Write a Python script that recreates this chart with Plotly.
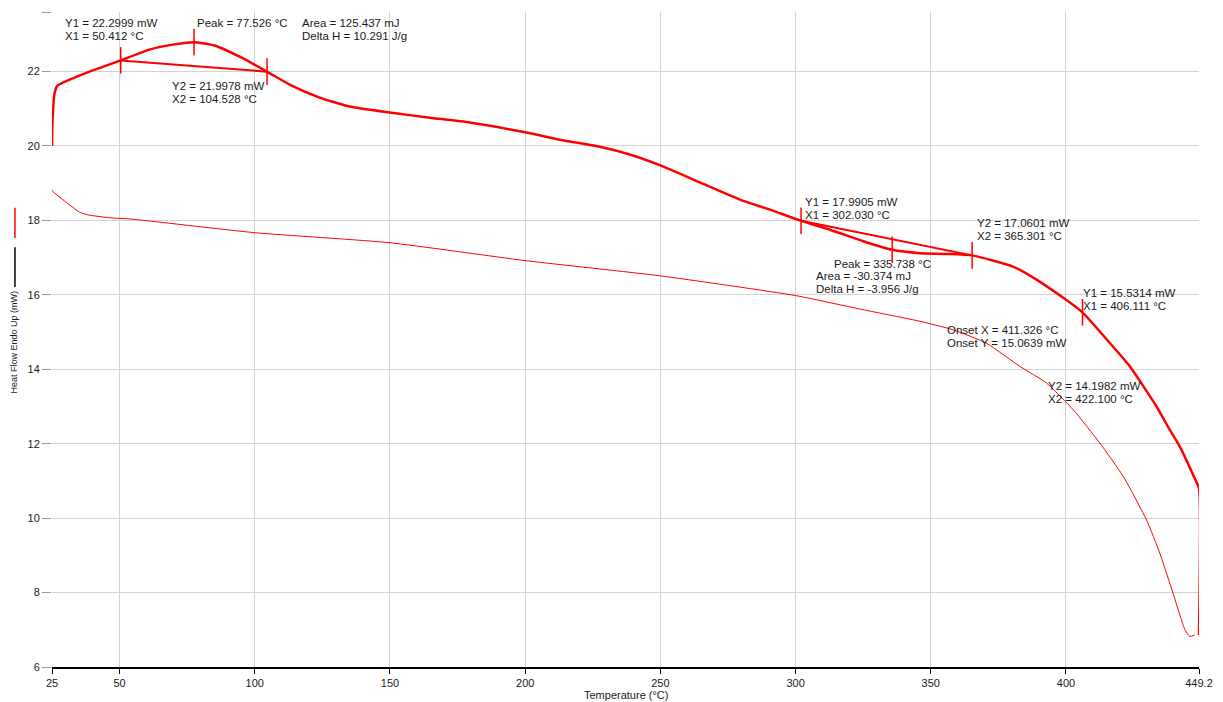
import plotly.graph_objects as go

# ---- data ----
THICK_T = [25.0, 25.2, 26.0, 27.0, 31.5, 38.9, 50.4, 61.0, 70.3, 77.5, 85.1, 94.4, 104.5,
           112.9, 124.0, 135.0, 149.9, 164.7, 179.5, 200.5, 212.7, 227.6, 238.7, 250.9,
           264.6, 279.4, 290.5, 302.0, 312.7, 325.0, 335.7, 346.0, 355.8, 365.3, 380.4,
           389.1, 399.0, 406.1, 416.3, 423.6, 433.5, 438.4, 442.1, 447.6, 449.2, 449.2]
THICK_HF = [20.0, 20.7, 21.43, 21.62, 21.78, 22.0, 22.3, 22.59, 22.73, 22.79, 22.7, 22.4, 22.0,
            21.65, 21.3, 21.06, 20.9, 20.76, 20.63, 20.36, 20.17, 19.98, 19.77, 19.45,
            19.02, 18.56, 18.29, 17.99, 17.75, 17.44, 17.21, 17.12, 17.1, 17.06, 16.76,
            16.41, 15.92, 15.53, 14.7, 14.08, 13.0, 12.37, 11.92, 11.07, 10.8, 6.86]

THIN_T = [25.0, 25.3, 35.2, 38.2, 46.3, 53.7, 100.0, 150.0, 200.0, 250.0, 300.0, 325.0,
          346.0, 358.3, 370.6, 382.9, 392.8, 402.7, 412.5, 421.2, 429.8, 434.7, 439.6,
          444.0, 445.8, 447.6]
THIN_HF = [18.83, 18.78, 18.22, 18.15, 18.07, 18.04, 17.67, 17.4, 16.92, 16.51, 15.98, 15.6,
           15.29, 15.06, 14.7, 14.08, 13.63, 12.91, 12.02, 11.12, 9.95, 9.06, 7.98,
           7.0, 6.82, 6.86]

# integration baselines (start/end points)
BASE1_T = [50.412, 104.528]
BASE1_HF = [22.2999, 21.9978]
BASE2_T = [302.030, 365.301]
BASE2_HF = [17.9905, 17.0601]

# analysis markers
MARK_T = [50.412, 77.526, 104.528, 302.030, 335.738, 365.301, 406.111]
MARK_HF = [22.2999, 22.79, 21.9978, 17.9905, 17.21, 17.0601, 15.5314]

X_TICKS = [25, 50, 100, 150, 200, 250, 300, 350, 400, 449.2]
X_TICKTEXT = ["25", "50", "100", "150", "200", "250", "300", "350", "400", "449.2"]
X_GRID = [50, 100, 150, 200, 250, 300, 350, 400, 449.2]
Y_TICKS = [6, 8, 10, 12, 14, 16, 18, 20, 22, 23.6]
Y_TICKTEXT = ["6", "8", "10", "12", "14", "16", "18", "20", "22", "23.6"]
Y_GRID = [8, 10, 12, 14, 16, 18, 20, 22]

RED = "#ff0000"
FONT = "Liberation Sans, Arial, sans-serif"
TXT = "#1a1a1a"

fig = go.Figure()
fig.add_trace(go.Scatter(x=THIN_T, y=THIN_HF, mode="lines",
                         line=dict(color=RED, width=1, shape="spline", smoothing=0.5),
                         showlegend=False, hoverinfo="skip"))
fig.add_trace(go.Scatter(x=THICK_T, y=THICK_HF, mode="lines",
                         line=dict(color=RED, width=2.5, shape="spline", smoothing=0.5),
                         showlegend=False))
fig.add_trace(go.Scatter(x=BASE1_T, y=BASE1_HF, mode="lines",
                         line=dict(color=RED, width=2), showlegend=False))
fig.add_trace(go.Scatter(x=BASE2_T, y=BASE2_HF, mode="lines",
                         line=dict(color=RED, width=2), showlegend=False))
fig.add_trace(go.Scatter(x=MARK_T, y=MARK_HF, mode="markers",
                         marker=dict(symbol="line-ns", size=19,
                                     line=dict(color=RED, width=1.5)),
                         showlegend=False))

ann_font = dict(family=FONT, size=11.5, color=TXT)
LINE_GAP = 13
annots = [
    (28.9, 23.14, ["Y1 = 22.2999 mW", "X1 = 50.412 °C"]),
    (77.7, 23.30, ["Peak = 77.526 °C"]),
    (116.6, 23.14, ["Area = 125.437 mJ", "Delta H = 10.291 J/g"]),
    (68.5, 21.44, ["Y2 = 21.9978 mW", "X2 = 104.528 °C"]),
    (302.7, 18.32, ["Y1 = 17.9905 mW", "X1 = 302.030 °C"]),
    (366.3, 17.76, ["Y2 = 17.0601 mW", "X2 = 365.301 °C"]),
    (313.3, 16.84, ["Peak = 335.738 °C"]),
    (306.7, 16.33, ["Area = -30.374 mJ", "Delta H = -3.956 J/g"]),
    (405.5, 15.88, ["Y1 = 15.5314 mW", "X1 = 406.111 °C"]),
    (355.2, 14.87, ["Onset X = 411.326 °C", "Onset Y = 15.0639 mW"]),
    (392.6, 13.37, ["Y2 = 14.1982 mW", "X2 = 422.100 °C"]),
]
for x, y, lines in annots:
    n = len(lines)
    for i, t in enumerate(lines):
        fig.add_annotation(x=x, y=y, xref="x", yref="y", text=t, showarrow=False,
                           xanchor="left", yanchor="middle", align="left", font=ann_font,
                           yshift=-(i - (n - 1) / 2) * LINE_GAP)

# axis titles
fig.add_annotation(xref="paper", yref="paper", x=0.5, y=-0.043, text="Temperature (°C)",
                   showarrow=False, xanchor="center", yanchor="middle",
                   font=dict(family=FONT, size=11, color=TXT))
fig.add_annotation(xref="paper", yref="paper", x=-0.0323, y=0.497,
                   text="Heat Flow Endo Up (mW)", textangle=-90, showarrow=False,
                   xanchor="center", yanchor="middle",
                   font=dict(family=FONT, size=9, color=TXT))
fig.add_shape(type="line", xref="paper", yref="paper", x0=-0.0323, x1=-0.0323,
              y0=0.655, y1=0.701, line=dict(color=RED, width=1.5))
fig.add_shape(type="line", xref="paper", yref="paper", x0=-0.0323, x1=-0.0323,
              y0=0.580, y1=0.641, line=dict(color="black", width=1.5))

# the page body adds an 8px margin, so the figure is made 8px smaller on the
# right/bottom and the plot margins are shifted accordingly
fig.update_layout(
    width=1215, height=694,
    margin=dict(l=44, r=24, t=4, b=35),
    plot_bgcolor="white", paper_bgcolor="white",
    font=dict(family=FONT, size=11, color=TXT),
    xaxis=dict(range=[25, 449.2], tickmode="array", tickvals=X_TICKS, ticktext=X_TICKTEXT,
               showgrid=False, zeroline=False, showline=True, linecolor="black", linewidth=1.5,
               ticks="outside", ticklen=5, tickcolor="black", tickwidth=1,
               tickfont=dict(family=FONT, size=11, color=TXT),
               minor=dict(tickmode="array", tickvals=X_GRID, showgrid=True,
                          gridcolor="#d3d3d3", gridwidth=1, ticks="")),
    yaxis=dict(range=[6, 23.6], tickmode="array", tickvals=Y_TICKS, ticktext=Y_TICKTEXT,
               showgrid=False, zeroline=False, showline=False,
               ticks="outside", ticklen=9, tickcolor="#999999", tickwidth=1,
               tickfont=dict(family=FONT, size=11, color=TXT),
               minor=dict(tickmode="array", tickvals=Y_GRID, showgrid=True,
                          gridcolor="#d3d3d3", gridwidth=1, ticks="")),
)

fig.write_html("out.html")
